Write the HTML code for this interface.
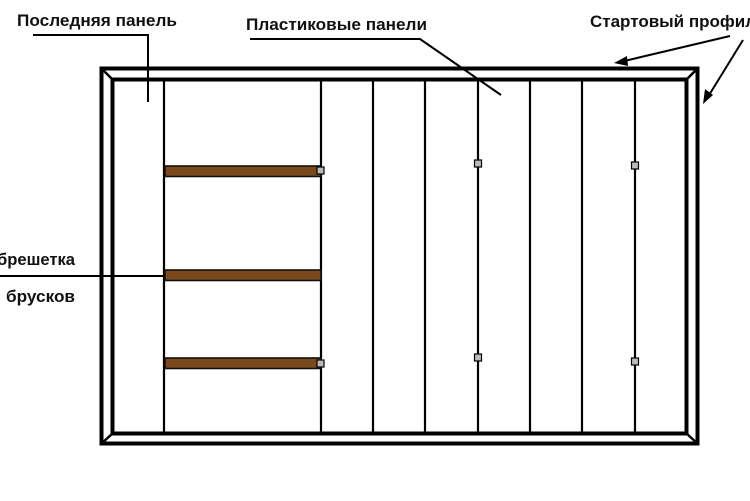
<!DOCTYPE html>
<html><head><meta charset="utf-8"><style>
html,body{margin:0;padding:0;background:#fff;width:750px;height:501px;overflow:hidden}
svg{display:block}
text{font-family:"Liberation Sans",Arial,sans-serif;font-weight:bold;font-size:17px;fill:#111}
</style></head><body>
<svg width="750" height="501" viewBox="0 0 750 501" xmlns="http://www.w3.org/2000/svg">
<rect x="101.5" y="68.5" width="596" height="375" fill="none" stroke="#000" stroke-width="4"/>
<rect x="112.5" y="79.5" width="574" height="354" fill="none" stroke="#000" stroke-width="4"/>
<g stroke="#000" stroke-width="2.5">
<line x1="101" y1="68" x2="113" y2="80"/>
<line x1="698" y1="68" x2="686" y2="80"/>
<line x1="101" y1="444" x2="113" y2="433"/>
<line x1="698" y1="444" x2="686" y2="433"/>
</g>
<g stroke="#000" stroke-width="2.2">
<line x1="164" y1="80" x2="164" y2="433"/>
<line x1="321" y1="80" x2="321" y2="433"/>
<line x1="373" y1="80" x2="373" y2="433"/>
<line x1="425" y1="80" x2="425" y2="433"/>
<line x1="478" y1="80" x2="478" y2="433"/>
<line x1="530" y1="80" x2="530" y2="433"/>
<line x1="582" y1="80" x2="582" y2="433"/>
<line x1="635" y1="80" x2="635" y2="433"/>
</g>
<g fill="#7b4a1c" stroke="#111" stroke-width="1.6">
<rect x="165" y="166" width="156" height="10.5"/>
<rect x="165" y="270" width="156" height="10.5"/>
<rect x="165" y="358" width="156" height="10.5"/>
</g>
<g fill="#bbb" stroke="#000" stroke-width="1.2">
<rect x="317" y="167" width="7" height="7"/>
<rect x="317" y="360" width="7" height="7"/>
<rect x="474.5" y="160" width="7" height="7"/>
<rect x="474.5" y="354" width="7" height="7"/>
<rect x="631.5" y="162" width="7" height="7"/>
<rect x="631.5" y="358" width="7" height="7"/>
</g>
<g stroke="#000" stroke-width="2" fill="none">
<polyline points="33,35 148,35 148,102"/>
<polyline points="250,39 420,39 501,95"/>
<line x1="0" y1="276" x2="164" y2="276"/>
<line x1="730" y1="36" x2="620" y2="62"/>
<line x1="743" y1="40" x2="706" y2="100"/>
</g>
<g fill="#000">
<polygon points="614,63 627,56 628,66"/>
<polygon points="703,104 705,89 713,95"/>
</g>
<text x="17" y="26" textLength="160" lengthAdjust="spacingAndGlyphs">Последняя панель</text>
<text x="246" y="30" textLength="181" lengthAdjust="spacingAndGlyphs">Пластиковые панели</text>
<text x="590" y="27">Стартовый профиль</text>
<text x="-3" y="265" textLength="78" lengthAdjust="spacingAndGlyphs">брешетка</text>
<text x="6" y="302" textLength="69" lengthAdjust="spacingAndGlyphs">брусков</text>
</svg>
</body></html>
